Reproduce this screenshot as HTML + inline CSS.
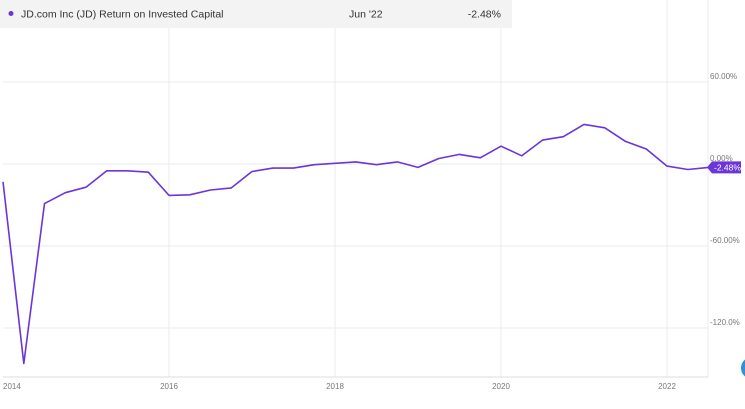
<!DOCTYPE html>
<html><head><meta charset="utf-8"><style>
body{margin:0;background:#fff;font-family:"Liberation Sans",sans-serif;}
svg{display:block}
</style></head><body>
<svg width="745" height="409" viewBox="0 0 745 409">
<g id="grid"></g>
<rect x="0" y="0" width="512" height="28" fill="#f3f3f3"/>
<circle cx="11" cy="13.5" r="2.5" fill="#6b35d9"/>
<text x="21" y="17.5" font-size="10.5" fill="#333">JD.com Inc (JD) Return on Invested Capital</text>
<text x="349" y="17.5" font-size="10.5" fill="#333">Jun '22</text>
<text x="501" y="17.5" font-size="10.5" fill="#333" text-anchor="end">-2.48%</text>
<g id="yt"></g>
<g id="xt"></g>
<path id="line" fill="none" stroke="#6b35d9" stroke-width="1.6" stroke-linejoin="round"/>
<g id="badge"></g>
<circle cx="752" cy="368" r="11" fill="#2d8fe0"/>
</svg>
<script>
const startYear = 2014;
const values = [-13,-146,-29,-21,-17,-5,-5,-6,-23,-22.5,-19,-17.5,-5.5,-3,-3,-0.5,0.5,1.5,-0.5,1.5,-2.5,4,7,4.5,13,6,17.5,20,29,26.5,16.5,11,-1.5,-4,-2.48];
const yTicks = [60,0,-60,-120];
const yTickLabels = ["60.00%","0.00%","-60.00%","-120.0%"];
const xTicks = [2014,2016,2018,2020,2022];
const NS="http://www.w3.org/2000/svg";
function X(t){return 3+(t-2014)*83;}
function Y(v){return 164-v*82/60;}
function mk(tag,attrs,parent){const e=document.createElementNS(NS,tag);for(const k in attrs)e.setAttribute(k,attrs[k]);parent.appendChild(e);return e;}
const grid=document.getElementById('grid'),yt=document.getElementById('yt'),xt=document.getElementById('xt');
yTicks.forEach((v,i)=>{
  const l=mk('line',{x1:3,x2:708,y1:Y(v),y2:Y(v),stroke:'#ebebeb','stroke-width':1},grid);
  
  
  const t=mk('text',{x:710,y:Y(v)-3,'font-size':8,fill:'#777'},yt);
  t.textContent=yTickLabels[i];
  
  
});
xTicks.forEach((yr,i)=>{
  if(i>0){const l=mk('line',{x1:X(yr),x2:X(yr),y1:0,y2:377,stroke:'#ebebeb','stroke-width':1},grid);
  
  }
  const t=mk('text',{x:i==0?3:X(yr),y:389,'font-size':8,fill:'#777','text-anchor':i==0?'start':'middle'},xt);
  t.textContent=yr;
  
  
});
const ax=mk('line',{x1:3,x2:708,y1:377,y2:377,stroke:'#ddd','stroke-width':1},grid);


const ax2=mk('line',{x1:708,x2:708,y1:0,y2:377,stroke:'#ebebeb','stroke-width':1},grid);


let d='';
values.forEach((v,i)=>{d+=(i?'L':'M')+X(startYear+i*0.25).toFixed(1)+','+Y(v).toFixed(1);});
document.getElementById('line').setAttribute('d',d);
const last=values[values.length-1],by=Y(last);
const b=document.getElementById('badge');
mk('path',{d:`M707,${by} L712,${by-6} L741,${by-6} L741,${by+6} L712,${by+6} Z`,fill:'#6b35d9'},b);
const bt=mk('text',{x:714,y:by+3,'font-size':8.5,fill:'#fff'},b);
bt.textContent=last.toFixed(2)+'%';


</script>
</body></html>
